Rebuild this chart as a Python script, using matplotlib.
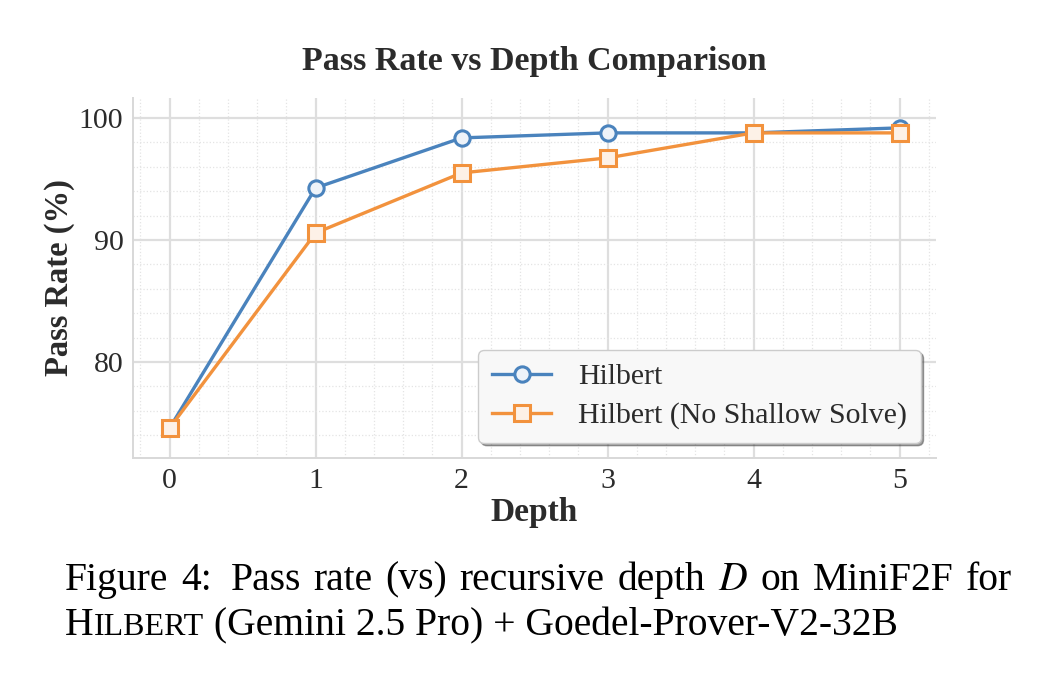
import numpy as np
import matplotlib
matplotlib.use("Agg")
from matplotlib import pyplot as plt
from matplotlib.ticker import MultipleLocator

depth = [0, 1, 2, 3, 4, 5]
hilbert = [74.59, 94.26, 98.36, 98.77, 98.77, 99.18]
hilbert_no_shallow = [74.59, 90.57, 95.49, 96.72, 98.77, 98.77]
labels = ["Hilbert", "Hilbert (No Shallow Solve)"]

plt.rcParams["font.family"] = ["Liberation Serif", "DejaVu Serif"]
plt.rcParams["mathtext.fontset"] = "stix"

BLUE = "#4A83BD"
ORANGE = "#F2923D"
TEXT = "#2b2b2b"

fig = plt.figure(figsize=(10.4, 6.94), dpi=100)
ax = fig.add_axes([0.128, 0.340, 0.772, 0.519])

ax.plot(depth, hilbert, "-o", color=BLUE, lw=2.4, ms=11, mew=2.2,
        mfc="#eef3f9", label=labels[0], zorder=3)
ax.plot(depth, hilbert_no_shallow, "-s", color=ORANGE, lw=2.4, ms=11, mew=2.2,
        mfc="#fdf1e7", label=labels[1], zorder=3)

ax.set_xlim(-0.25, 5.25)
ax.set_ylim(72.13, 101.64)
ax.set_xticks(depth)
ax.set_yticks([80, 90, 100])
ax.xaxis.set_minor_locator(MultipleLocator(0.2))
ax.yaxis.set_minor_locator(MultipleLocator(2))

ax.grid(which="major", color="#dedede", lw=1.6)
ax.grid(which="minor", color="#e4e4e4", lw=0.9, ls=":")
ax.set_axisbelow(True)
for side in ["top", "right"]:
    ax.spines[side].set_visible(False)
for side in ["left", "bottom"]:
    ax.spines[side].set_color("#d8d8d8")
    ax.spines[side].set_linewidth(1.4)
ax.tick_params(which="both", length=0, labelsize=21.5, labelcolor=TEXT, pad=7)

ax.set_title("Pass Rate vs Depth Comparison", fontsize=24.5, fontweight="bold",
             color=TEXT, pad=20)
ax.set_xlabel("Depth", fontsize=24, fontweight="bold", color=TEXT, labelpad=2)
ax.set_ylabel("Pass Rate (%)", fontsize=23.5, fontweight="bold", color=TEXT, labelpad=3)

leg = ax.legend(loc="lower right", fontsize=21.5, frameon=True, fancybox=True,
                shadow=True, handlelength=2.0, handletextpad=0.9, borderpad=0.45,
                labelspacing=0.4, borderaxespad=0, bbox_to_anchor=(0.981, 0.042))
leg.get_frame().set_facecolor("#f8f8f8")
leg.get_frame().set_edgecolor("#cccccc")
for t in leg.get_texts():
    t.set_color(TEXT)

# caption, first line justified to the full width like the LaTeX source
cap_size = 28.5
line1 = ["Figure", "4:", "Pass", "rate", "(vs)", "recursive", "depth", "$D$",
         "on", "MiniF2F", "for"]
x0, x1 = 65 / 1040, 1012 / 1040
y1, y2 = 0.150, 0.085
fig.canvas.draw()
renderer = fig.canvas.get_renderer()
words = [fig.text(0, y1, w, fontsize=cap_size, color="black", va="baseline") for w in line1]
widths = [t.get_window_extent(renderer).width / fig.bbox.width for t in words]
gap = (x1 - x0 - sum(widths) - 0.006) / (len(words) - 1)
x = x0
for i, (t, w) in enumerate(zip(words, widths)):
    t.set_x(x)
    x += w + gap + (0.006 if i == 1 else 0)

x = x0
for piece, size in [("H", cap_size), ("ILBERT", 23), (" (Gemini 2.5 Pro) + Goedel-Prover-V2-32B", cap_size)]:
    t = fig.text(x, y2, piece, fontsize=size, color="black", va="baseline")
    x += t.get_window_extent(renderer).width / fig.bbox.width

fig.savefig("out.png", dpi=100)
